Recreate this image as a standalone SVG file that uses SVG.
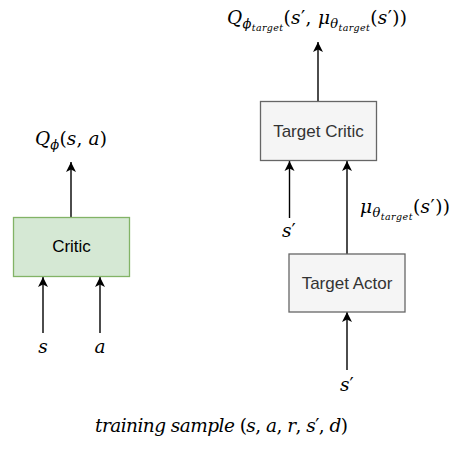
<svg xmlns="http://www.w3.org/2000/svg" width="454" height="449" viewBox="0 0 454 449">
<style>
.box-g{fill:#d5e8d4;stroke:#82b366;stroke-width:1.3}
.box-d{fill:#f5f5f5;stroke:#666666;stroke-width:1.3}
.lbl{font-family:"Liberation Sans",Arial,sans-serif;font-size:17px;text-anchor:middle}
.m{font-family:"DejaVu Serif","Liberation Serif",serif;font-size:18.5px;fill:#000}
.i{font-style:italic}
.s1{font-size:13px;font-style:italic}
.s2{font-size:9.5px;font-style:italic}
.edge{stroke:#000;stroke-width:1.4;fill:none;marker-end:url(#arr)}
</style>
<defs>
<marker id="arr" markerUnits="userSpaceOnUse" markerWidth="12" markerHeight="12" refX="10" refY="5" orient="auto" viewBox="0 0 12 10">
<path d="M0,0 L10,5 L0,10 L2.5,5 Z" fill="#000"/>
</marker>
</defs>
<g id="connectors">
<line class="edge" x1="71" y1="217" x2="71" y2="162"/>
<line class="edge" x1="43" y1="333" x2="43" y2="277"/>
<line class="edge" x1="100" y1="333" x2="100" y2="277"/>
<line class="edge" x1="318" y1="101" x2="318" y2="42"/>
<line class="edge" x1="289.5" y1="218" x2="289.5" y2="161"/>
<line class="edge" x1="347" y1="254" x2="347" y2="161"/>
<line class="edge" x1="347" y1="370" x2="347" y2="312"/>
</g>
<g id="critic">
<rect class="box-g" x="13.5" y="217.5" width="116" height="59"/>
<text class="lbl" x="71.5" y="252" fill="#000">Critic</text>
</g>
<g id="target-critic">
<rect class="box-d" x="260.5" y="101.5" width="116" height="59"/>
<text class="lbl" x="318.5" y="136.5" fill="#333333">Target Critic</text>
</g>
<g id="target-actor">
<rect class="box-d" x="289" y="254" width="116" height="58"/>
<text class="lbl" x="347" y="288.5" fill="#333333">Target Actor</text>
</g>
<g id="labels">
<text class="m" x="227" y="24" textLength="180" lengthAdjust="spacing"><tspan class="i">Q</tspan><tspan class="s1" dy="4">ϕ</tspan><tspan class="s2" dy="3">target</tspan><tspan dy="-7">(</tspan><tspan class="i">s</tspan>′, <tspan class="i">μ</tspan><tspan class="s1" dy="4">θ</tspan><tspan class="s2" dy="3">target</tspan><tspan dy="-7">(</tspan><tspan class="i">s</tspan>′))</text>
<text class="m" x="35" y="145" textLength="72" lengthAdjust="spacing"><tspan class="i">Q</tspan><tspan class="s1" dy="4">ϕ</tspan><tspan dy="-4">(</tspan><tspan class="i">s</tspan>, <tspan class="i">a</tspan>)</text>
<text class="m" x="43" y="353" text-anchor="middle"><tspan class="i">s</tspan></text>
<text class="m" x="100" y="353" text-anchor="middle"><tspan class="i">a</tspan></text>
<text class="m" x="282" y="237"><tspan class="i">s</tspan>′</text>
<text class="m" x="360" y="213" textLength="90" lengthAdjust="spacing"><tspan class="i">μ</tspan><tspan class="s1" dy="4">θ</tspan><tspan class="s2" dy="3">target</tspan><tspan dy="-7">(</tspan><tspan class="i">s</tspan>′))</text>
<text class="m" x="340" y="391"><tspan class="i">s</tspan>′</text>
<text class="m" x="95" y="432" textLength="253" lengthAdjust="spacing"><tspan class="i">training sample </tspan>(<tspan class="i">s</tspan>, <tspan class="i">a</tspan>, <tspan class="i">r</tspan>, <tspan class="i">s</tspan>′, <tspan class="i">d</tspan>)</text>
</g>
</svg>
